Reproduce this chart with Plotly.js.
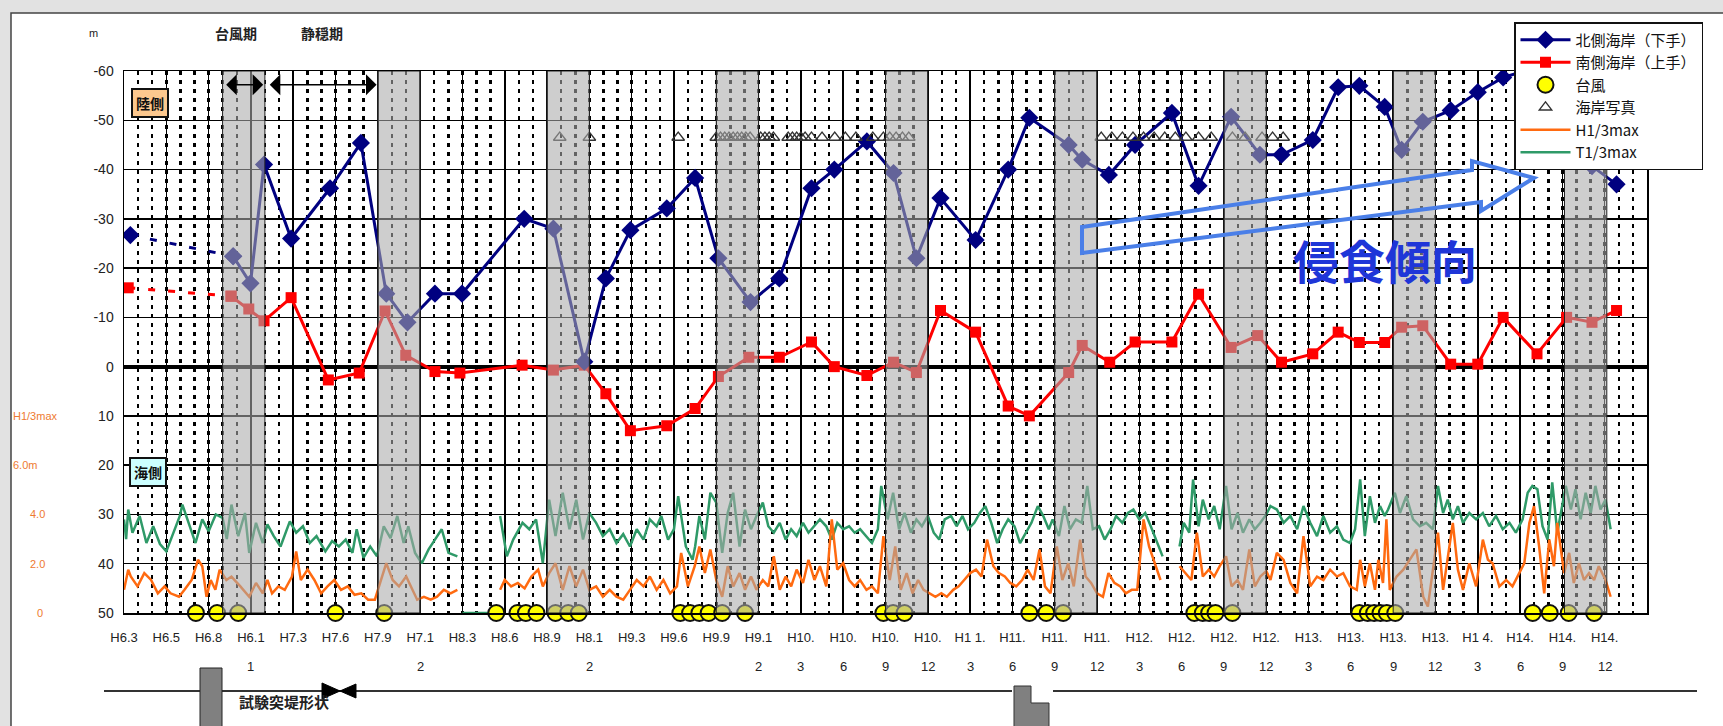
<!DOCTYPE html>
<html>
<head>
<meta charset="utf-8">
<script src="https://cdn.plot.ly/plotly-3.0.1.min.js"></script>
<style>html,body{margin:0;padding:0;background:#e2e2e2;}#chart{width:1723px;height:726px;}</style>
</head>
<body>
<div id="chart"></div>
<script>
// ---- category axis (quarter index) ----
const tickPos = [0,1,2,3,4,5,6,7,8,9,10,11,12,13,14,15,16,17,18,19,20,21,22,23,24,25,26,27,28,29,30,31,32,33,34,35];
const tickRow1 = ["H6.3","H6.5","H6.8","H6.1","H7.3","H7.6","H7.9","H7.1","H8.3","H8.6","H8.9","H8.1","H9.3","H9.6","H9.9","H9.1",
  "H10.","H10.","H10.","H10.","H1 1.","H11.","H11.","H11.","H12.","H12.","H12.","H12.","H13.","H13.","H13.","H13.","H1 4.","H14.","H14.","H14."];
const tickRow2 = ["","","","1","","","","2","","","","2","","","","2",
  "3","6","9","12","3","6","9","12","3","6","9","12","3","6","9","12","3","6","9","12"];
const yTicks = [-60,-50,-40,-30,-20,-10,0,10,20,30,40,50];
const yTickText = ["-60","-50","-40","-30","-20","-10","0","10","20","30","40","50"];

// typhoon-season bands (quarter index)
const bandStart = [2.33, 6, 10, 14, 18, 22, 26, 30, 34.05];
const bandEnd   = [3.33, 7, 11, 15, 19, 23, 27, 31, 35.05];

// 北側海岸(下手)
const blueX = [0.15,2.58,2.99,3.31,3.95,4.87,5.6,6.2,6.7,7.35,7.99,9.46,10.15,10.88,11.39,11.97,12.83,13.5,14.05,14.81,15.49,16.25,16.79,17.56,18.19,18.73,19.3,20.13,20.9,21.4,22.33,22.65,23.28,23.9,24.77,25.4,26.17,26.85,27.36,28.1,28.7,29.2,29.8,30.2,30.7,31.36,32.0,32.6,33.3,34.1,34.7,35.28];
const blueY = [-26.7,-22.4,-16.9,-41,-26,-36.2,-45.4,-14.8,-9.0,-14.8,-14.8,-30,-28,-1,-17.9,-27.7,-32.1,-38.3,-22,-13.1,-17.9,-36.2,-40,-45.7,-39.3,-22,-34.2,-25.7,-40,-50.5,-45,-42,-38.9,-45,-51.5,-36.7,-50.7,-43,-43,-46,-56.7,-57,-52.7,-44,-49.7,-52,-55.7,-58.7,-60.5,-50,-40.7,-37];

// 南側海岸(上手)
const redX = [0.1,2.53,2.95,3.31,3.95,4.83,5.56,6.17,6.66,7.35,7.94,9.41,10.15,10.88,11.39,11.97,12.83,13.5,14.05,14.77,15.49,16.25,16.79,17.56,18.19,18.73,19.3,20.13,20.9,21.4,22.33,22.65,23.3,23.9,24.77,25.4,26.17,26.8,27.36,28.1,28.7,29.2,29.8,30.2,30.7,31.36,32.0,32.6,33.4,34.1,34.7,35.28];
const redY = [-16,-14.3,-11.7,-9.3,-14,2.7,1.3,-11.3,-2.3,1,1.3,-0.3,0.7,-0.3,5.5,13,12,8.5,2,-1.9,-1.9,-5,0,1.8,-0.9,1.2,-11.4,-7,8,10,1.2,-4.3,-0.9,-5,-5,-14.7,-3.9,-6.3,-0.9,-2.6,-7,-4.9,-4.9,-8,-8.3,-0.5,-0.5,-10,-2.6,-10,-9,-11.4];

// 台風
const typhoonX = [1.7,2.2,2.7,5.0,6.15,8.8,9.3,9.5,9.75,10.2,10.5,10.75,13.15,13.38,13.6,13.82,14.14,14.68,17.95,18.18,18.45,21.4,21.8,22.2,25.3,25.5,25.65,25.8,26.2,29.2,29.4,29.55,29.7,29.85,30.05,33.3,33.7,34.15,34.75];
const typhoonY = [50,50,50,50,50,50,50,50,50,50,50,50,50,50,50,50,50,50,50,50,50,50,50,50,50,50,50,50,50,50,50,50,50,50,50,50,50,50,50];

// 海岸写真
const photoX = [10.3,11.0,13.1,14.0,14.1,14.2,14.3,14.4,14.5,14.6,14.7,14.8,15.05,15.15,15.25,15.35,15.7,15.8,15.9,16.0,16.1,16.25,16.5,16.8,17.05,17.3,17.7,17.95,18.1,18.25,18.4,18.55,
  23.1,23.35,23.6,23.85,24.1,24.35,24.6,24.85,25.1,25.4,25.7,26.2,26.5,26.9,27.15,27.4];
const photoY = [-46.5,-46.5,-46.5,-46.5,-46.5,-46.5,-46.5,-46.5,-46.5,-46.5,-46.5,-46.5,-46.5,-46.5,-46.5,-46.5,-46.5,-46.5,-46.5,-46.5,-46.5,-46.5,-46.5,-46.5,-46.5,-46.5,-46.5,-46.5,-46.5,-46.5,-46.5,-46.5,
  -46.5,-46.5,-46.5,-46.5,-46.5,-46.5,-46.5,-46.5,-46.5,-46.5,-46.5,-46.5,-46.5,-46.5,-46.5,-46.5];

// T1/3max (green), plotted on the lower panel scale
const greenX = [0,0.05,0.1,0.2,0.37,0.53,0.69,0.85,1.0,1.16,1.32,1.38,1.53,1.69,1.85,2.0,2.17,2.33,2.43,2.54,2.7,2.86,2.96,3.12,3.28,3.39,3.54,3.7,3.92,4.07,4.23,4.39,4.55,4.76,4.92,5.08,5.24,5.4,5.5,5.66,5.82,5.98,6.14,6.3,6.46,6.61,6.72,6.88,7.04,7.2,7.35,7.51,7.67,7.88,7.95,8.0,8.85,8.87,8.89,9.05,9.2,9.42,9.58,9.74,9.9,10.05,10.2,10.37,10.53,10.69,10.85,11.0,11.16,11.32,11.48,11.64,11.8,11.96,12.12,12.28,12.43,12.59,12.7,12.86,13.0,13.1,13.28,13.44,
  13.5,13.6,13.73,13.86,14.0,14.14,14.27,14.4,14.55,14.68,14.82,14.95,15.1,15.23,15.36,15.5,15.64,15.77,15.9,16.05,16.18,16.32,16.45,16.6,16.73,16.86,17.0,17.14,17.27,17.4,17.55,17.68,17.82,17.9,18.05,18.18,18.32,18.45,18.6,18.73,18.86,19.0,19.14,19.27,19.4,19.55,19.68,19.82,19.95,20.1,20.23,20.36,20.5,20.64,20.77,20.9,21.05,21.18,21.32,21.45,21.6,21.73,21.86,21.95,22.1,22.23,22.36,22.5,22.64,22.77,22.9,23.05,23.18,23.32,23.45,23.6,23.73,23.86,24.0,24.14,24.27,24.4,24.55,24.7,24.95,25.05,25.18,25.27,25.4,25.5,25.64,25.77,25.9,26.05,26.18,26.32,26.45,26.6,26.73,26.86,
  27.0,27.1,27.25,27.41,27.57,27.73,27.88,28.04,28.2,28.35,28.51,28.67,28.82,28.98,29.1,29.22,29.33,29.45,29.57,29.69,29.8,29.88,30.04,30.16,30.31,30.47,30.63,30.78,30.94,31.06,31.18,31.29,31.41,31.53,31.65,31.8,31.96,32.12,32.27,32.43,32.59,32.75,32.9,33.06,33.18,33.29,33.41,33.53,33.65,33.76,33.88,34.08,34.2,34.31,34.43,34.55,34.67,34.78,34.9,35.02,35.14];
const greenY = [31,35,29,33.7,30.3,35.8,32.4,36,37.5,33.7,30.3,28,31.7,35.8,31,33.4,30,30.7,35,28,34.4,29.7,37.8,31.7,35.8,32,34.4,36.5,31.4,33.7,32.4,35.8,34.4,37.5,35.4,36.5,35.1,37.8,33,38.8,36.5,38.5,32.4,34.8,30.3,35.8,32.4,37.8,39.9,37.1,35.1,33,37.8,38.5,null,50,50,null,30.3,38.5,35.1,31.7,33,31,39.9,27,34.4,25.6,33,27,35.1,29.7,31.7,34.4,33,35.8,34,36.5,33,35.1,31,32.4,30.3,35.1,33,26.3,36.5,39.2,
  36.5,30.3,35.1,25.6,27.6,37.8,29.7,25.6,36.5,29,33,30.3,27.6,32.4,33.7,31.7,35.1,33,34.4,31.7,33.7,32.4,31,32.4,35.1,31.7,33,32.4,33.7,33,34.4,35.8,33,24.2,31,25.6,33,29.7,33.7,31,32.4,30.3,33.7,35.1,31,30.3,32.4,30.3,33,31.7,29.7,28.3,31.7,35.8,33,31,32.4,35.8,33.7,31.7,28.3,30.3,33,31,34.4,28.3,33,31,31.7,24.2,33,32.4,35.1,33,30.3,31.7,29.7,29,31,29.7,32.4,35.1,38.5,null,36.5,31.7,33.7,22.9,32.4,27,31,28.3,33,24.2,33,29.7,33.7,31,33,31.7,
  30,28.3,29,31.7,30.3,33,28.3,31.7,34.4,30.3,33.7,32.4,35.1,35.8,33,22.9,34.4,26.3,31.7,28.3,30.3,29,25.6,29.7,26.3,31,32.4,31.7,33,24.2,29.7,27,31,28.3,31.7,29.7,31,29.7,32.4,30.3,33,31.7,33.7,31,25.6,24.2,24.9,32.4,35.1,23.5,33.7,24.2,29,24.9,31,25.6,29.7,24.2,29,27,33];

// H1/3max (orange)
const orangeX = [0,0.1,0.16,0.32,0.48,0.64,0.8,0.96,1.1,1.3,1.43,1.6,1.75,1.85,1.95,2.05,2.16,2.26,2.42,2.54,2.75,2.96,3.12,3.28,3.39,3.5,3.65,3.8,3.97,4.07,4.18,4.34,4.5,4.66,4.81,4.97,5.13,5.29,5.45,5.61,5.77,5.93,6.1,6.2,6.35,6.5,6.67,6.82,6.93,7.09,7.25,7.4,7.56,7.72,7.88,7.95,8.89,9.0,9.15,9.31,9.47,9.63,9.79,9.9,10.05,10.2,10.37,10.53,10.69,10.85,11.0,11.16,11.32,11.48,11.64,11.8,11.96,12.12,12.28,12.43,12.59,12.75,12.91,13.07,13.17,13.33,13.49,
  13.6,13.73,13.86,14.0,14.14,14.27,14.4,14.55,14.68,14.82,14.95,15.1,15.23,15.36,15.5,15.64,15.77,15.9,16.05,16.18,16.32,16.45,16.6,16.73,16.86,17.0,17.14,17.27,17.4,17.55,17.68,17.82,17.95,18.1,18.23,18.36,18.5,18.64,18.77,18.9,19.05,19.18,19.32,19.45,19.6,19.73,19.86,20.0,20.14,20.27,20.4,20.55,20.68,20.82,20.95,21.09,21.23,21.36,21.5,21.64,21.77,21.9,22.05,22.18,22.32,22.45,22.6,22.73,22.86,23.0,23.14,23.27,23.41,23.55,23.68,23.82,23.95,24.1,24.23,24.36,24.5,24.7,24.95,25.09,25.23,25.36,25.5,25.64,25.77,25.9,26.05,26.18,26.32,26.45,26.6,26.73,26.86,
  27.0,27.1,27.25,27.41,27.57,27.73,27.88,28.04,28.2,28.35,28.51,28.67,28.82,28.98,29.14,29.22,29.33,29.45,29.57,29.65,29.76,29.84,29.92,30.08,30.24,30.39,30.55,30.71,30.82,30.94,31.06,31.18,31.29,31.41,31.53,31.65,31.8,31.96,32.12,32.24,32.35,32.51,32.67,32.82,32.98,33.1,33.22,33.33,33.45,33.57,33.69,33.8,33.88,34.04,34.16,34.27,34.39,34.51,34.63,34.75,34.86,35.02,35.14];
const orangeY = [45.3,41.2,42.6,44.6,41.9,43.3,46,44.6,46,46.7,45.3,43.3,39.2,40.5,46.7,43.3,45.3,41.2,43.3,42.6,44.6,46.7,43.9,46,43.3,46,44.6,45.3,42.6,37.5,43.3,41.2,43.3,46,44.6,43.3,45.3,44.6,46.3,46,47.3,47.3,42.6,39.9,43.3,44.6,42.6,45.3,47.3,46.7,47.3,46.7,45.3,46,45.3,null,45.3,43.3,44.6,43.9,45,42.6,41.2,44.6,41.9,39.9,45.3,40.5,44.6,41.2,45.3,44.6,46.7,45.3,46.7,47.3,45.3,43.3,44.6,42.6,45.3,43.3,46,44.6,37.8,44.6,40.5,
  36.5,41.9,37.1,43.3,46.7,40.5,44.6,41.9,45.3,42.6,45.3,43.3,44.6,38.5,45.3,42.6,44.6,41.2,43.9,39.2,43.3,40.5,44.6,31,41.2,39.9,43.3,44.6,43.3,45.3,44.6,46,34.4,43.3,36.5,45.3,41.9,46,43.3,45.3,46,46.7,46,46.7,45.3,44.6,43.3,41.9,41.2,42.6,35.1,40.5,41.9,42.6,43.9,44.6,43.3,41.2,43.3,37.1,44.6,46,36.5,43.3,39.9,44.6,35.1,42.6,43.9,46,46.7,41.9,43.9,44.6,46,45.3,45.3,31,36.5,39.9,43.3,null,40.5,41.9,43.3,33.7,42.6,41.2,42.6,40.5,38.5,44.6,43.3,45.3,37.1,44.6,42.6,
  41.5,43.3,37.8,39.2,43.9,46,34.4,44.6,42.6,43.3,41.2,42.6,41.9,44.6,45.3,39.2,44.6,39.9,45.3,39.2,43.9,31,45.3,42.6,41.2,39.2,37.1,46.7,48.7,41.2,33.7,45.3,38.5,31.7,41.2,45.3,39.9,44.6,35.1,39.2,39.9,44.6,43.3,44.6,41.9,39.9,31.7,28.3,36.5,46,35.1,40.5,31.7,41.9,37.8,43.9,39.9,43.3,41.9,43.3,40.5,43.3,46.7];

// wave-height scale labels on the left (lower panel)
const waveScaleText = ["H1/3max","6.0m","4.0","2.0","0"];
const waveScaleAt = [10,20,30,40,50];

// ---- geometry helpers (pixel -> paper) ----
const L=124, R=1647, T=71, B=613;
const px = p => (p - L) / (R - L);
const py = p => (B - p) / (B - T);
const pathFrom = pts => 'M' + pts.map(q => px(q[0]).toFixed(5) + ',' + py(q[1]).toFixed(5)).join(' L') + ' Z';

const JP = '"Noto Sans CJK JP", "Noto Sans", sans-serif';
const LAT = '"Liberation Sans", Arial, sans-serif';

const traces = [
  {x: greenX, y: greenY, type:'scatter', mode:'lines', name:'T1/3max', legendrank:6,
   line:{color:'#2f9a68', width:2.5}, connectgaps:false},
  {x: orangeX, y: orangeY, type:'scatter', mode:'lines', name:'H1/3max', legendrank:5,
   line:{color:'#ff6a10', width:2.5}, connectgaps:false},
  {x: redX.slice(0,2), y: redY.slice(0,2), type:'scatter', mode:'lines+markers', showlegend:false,
   line:{color:'#ff0000', width:3, dash:'7px,13px'}, marker:{symbol:'square', size:11, color:'#ff0000'}},
  {x: blueX.slice(0,2), y: blueY.slice(0,2), type:'scatter', mode:'lines+markers', showlegend:false,
   line:{color:'#000080', width:3, dash:'7px,13px'}, marker:{symbol:'diamond', size:14, color:'#000080'}},
  {x: redX.slice(1), y: redY.slice(1), type:'scatter', mode:'lines+markers', name:'南側海岸（上手）', legendrank:2,
   line:{color:'#ff0000', width:3}, marker:{symbol:'square', size:11, color:'#ff0000'}},
  {x: blueX.slice(1), y: blueY.slice(1), type:'scatter', mode:'lines+markers', name:'北側海岸（下手）', legendrank:1,
   line:{color:'#000080', width:3}, marker:{symbol:'diamond', size:14, color:'#000080'}},
  {x: photoX, y: photoY, type:'scatter', mode:'markers', name:'海岸写真', legendrank:4,
   marker:{symbol:'triangle-up-open', size:11, color:'#333333', line:{width:1.3}}},
  {x: typhoonX, y: typhoonY, type:'scatter', mode:'markers', name:'台風', legendrank:3, cliponaxis:false,
   marker:{symbol:'circle', size:16, color:'#ffff00', line:{color:'#111', width:2}}}
];

const shapes = [];
// white panel with border
shapes.push({type:'rect', xref:'paper', yref:'paper', layer:'below',
  x0:px(11), x1:px(1760), y0:py(13), y1:py(760), fillcolor:'#ffffff', line:{color:'#444', width:1.5}});
// typhoon-season bands
bandStart.forEach((s,i) => shapes.push({type:'rect', xref:'x', yref:'y', layer:'above',
  x0:s, x1:bandEnd[i], y0:-60, y1:50, fillcolor:'rgba(170,170,170,0.58)', line:{color:'#222', width:1}}));
// hollow blue trend arrow
shapes.push({type:'path', xref:'paper', yref:'paper', layer:'above',
  path: pathFrom([[1082,227],[1472,170],[1472,161],[1534,178],[1481,211],[1481,202],[1082,253]]),
  line:{color:'#4a7fe8', width:4}, fillcolor:'rgba(255,255,255,0)'});
// lower schematic: groyne shape line and blocks
shapes.push({type:'line', xref:'paper', yref:'paper', x0:px(104), x1:px(1012), y0:py(691), y1:py(691), line:{color:'#333', width:2}});
shapes.push({type:'line', xref:'paper', yref:'paper', x0:px(1053), x1:px(1697), y0:py(691), y1:py(691), line:{color:'#333', width:2}});
shapes.push({type:'rect', xref:'paper', yref:'paper', x0:px(200), x1:px(222), y0:py(668), y1:py(740), fillcolor:'#808080', line:{color:'#222', width:1}});
shapes.push({type:'path', xref:'paper', yref:'paper',
  path: pathFrom([[1014,686],[1031,686],[1031,703],[1049,703],[1049,740],[1014,740]]), fillcolor:'#808080', line:{color:'#333', width:1}});
shapes.push({type:'path', xref:'paper', yref:'paper', path: pathFrom([[322,683],[340,691],[322,699]]), fillcolor:'#000', line:{color:'#000', width:1}});
shapes.push({type:'path', xref:'paper', yref:'paper', path: pathFrom([[356,684],[340,691],[356,698]]), fillcolor:'#000', line:{color:'#000', width:1}});

const annotations = [];
const C = {xanchor:'center', yanchor:'middle', showarrow:false};
// second row of x labels
tickPos.forEach((k,i) => { if (tickRow2[i]) annotations.push(Object.assign({xref:'x', yref:'paper', x:k, y:py(666), text:tickRow2[i],
  font:{family:LAT, size:13, color:'#222'}}, C)); });
// left wave-height scale
const waveScaleXpx = [35, 25, 37, 37, 40];
waveScaleText.forEach((t,i) => annotations.push(Object.assign({xref:'paper', yref:'y', x:px(waveScaleXpx[i]), y:waveScaleAt[i], text:t,
  font:{family:LAT, size:11, color:'#ee7a30'}}, C)));
// top texts
annotations.push(Object.assign({xref:'paper', yref:'paper', x:px(93), y:py(33), text:'m', font:{family:LAT, size:11, color:'#222'}}, C));
annotations.push(Object.assign({xref:'paper', yref:'paper', x:px(236), y:py(33), text:'台風期', font:{family:JP, size:14, color:'#222', weight:700}}, C));
annotations.push(Object.assign({xref:'paper', yref:'paper', x:px(322), y:py(33), text:'静穏期', font:{family:JP, size:14, color:'#222', weight:700}}, C));
// side boxes
annotations.push(Object.assign({xref:'paper', yref:'paper', x:px(150), y:py(103), text:'陸側',
  font:{family:JP, size:14, color:'#111', weight:700}, bgcolor:'#fcc88e', bordercolor:'#111', borderwidth:2, borderpad:3}, C));
annotations.push(Object.assign({xref:'paper', yref:'paper', x:px(148), y:py(472), text:'海側',
  font:{family:JP, size:14, color:'#111', weight:700}, bgcolor:'#ccffff', bordercolor:'#111', borderwidth:2, borderpad:3}, C));
// period arrows (typhoon season / calm season)
annotations.push({xref:'x', yref:'y', axref:'x', ayref:'y', x:bandEnd[0]-0.04, y:-57.2, ax:bandStart[0]+0.05, ay:-57.2, text:'',
  showarrow:true, arrowside:'end+start', arrowhead:1, arrowsize:2.2, arrowwidth:1.6, arrowcolor:'#000'});
annotations.push({xref:'x', yref:'y', axref:'x', ayref:'y', x:bandStart[1]-0.03, y:-57.2, ax:bandEnd[0]+0.08, ay:-57.2, text:'',
  showarrow:true, arrowside:'end+start', arrowhead:1, arrowsize:2.2, arrowwidth:1.6, arrowcolor:'#000'});
// erosion label
annotations.push(Object.assign({xref:'paper', yref:'paper', x:px(1385), y:py(259), text:'侵食傾向',
  font:{family:JP, size:46, color:'#1f36d8', weight:700}}, C));
// schematic caption
annotations.push(Object.assign({xref:'paper', yref:'paper', x:px(284), y:py(701), text:'試験突堤形状',
  font:{family:JP, size:15, color:'#222', weight:700}}, C));

const layout = {
  width:1723, height:726,
  margin:{l:L, r:1723-R, t:T, b:726-B, pad:0},
  paper_bgcolor:'#e2e2e2', plot_bgcolor:'#ffffff',
  showlegend:true,
  legend:{x:px(1514), y:py(22), xanchor:'left', yanchor:'top', bgcolor:'#ffffff', bordercolor:'#111', borderwidth:1.5,
    font:{family:JP, size:15, color:'#111'}, itemwidth:50, tracegroupgap:0, traceorder:'normal'},
  xaxis:{range:[0,36], tickmode:'array', tickvals:tickPos, ticktext:tickRow1, ticks:'', ticklabelstandoff:12,
    tickfont:{family:LAT, size:13, color:'#222'}, showgrid:true, gridcolor:'#000', gridwidth:1.5,
    minor:{tickmode:'linear', tick0:0, dtick:1/3, showgrid:true, gridcolor:'#000', gridwidth:2.5, griddash:'4px,5px', ticks:''},
    showline:true, mirror:true, linecolor:'#000', linewidth:1.5, zeroline:false, fixedrange:true},
  yaxis:{range:[50,-60], tickmode:'array', tickvals:yTicks, ticktext:yTickText, ticks:'', ticklabelstandoff:6,
    tickfont:{family:LAT, size:14, color:'#222'}, showgrid:true, gridcolor:'#000', gridwidth:1.5,
    zeroline:true, zerolinecolor:'#000', zerolinewidth:4,
    showline:true, mirror:true, linecolor:'#000', linewidth:1.5, fixedrange:true},
  shapes:shapes, annotations:annotations
};

Plotly.newPlot('chart', traces, layout, {displayModeBar:false, staticPlot:true});
</script>
</body>
</html>
